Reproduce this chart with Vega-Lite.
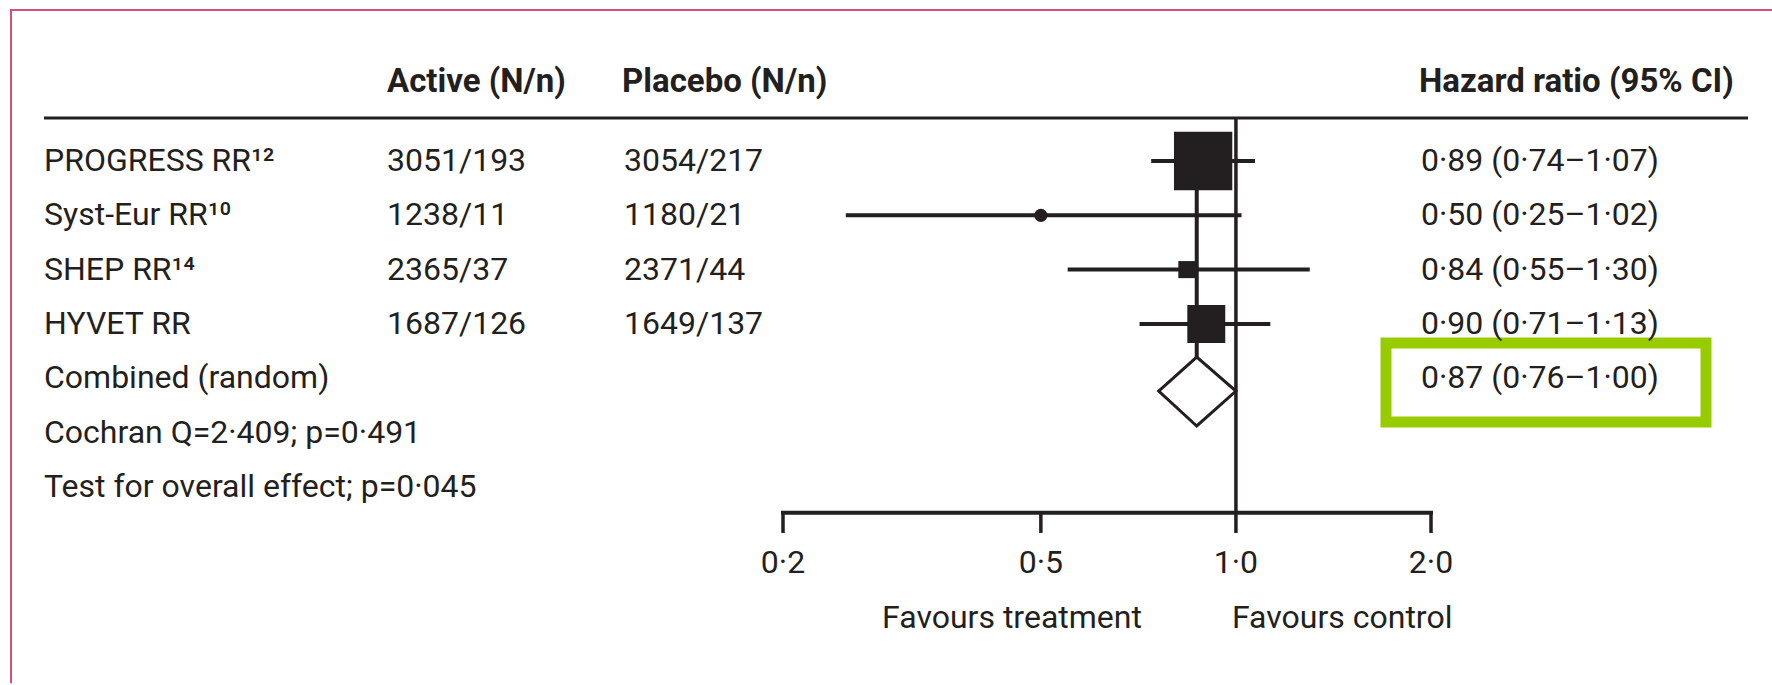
{
  "$schema": "https://vega.github.io/schema/vega-lite/v6.json",
  "background": "white",
  "padding": {"left": 9, "top": 0, "right": 0, "bottom": 0},
  "bounds": "flush",
  "spacing": 0,
  "config": {
    "view": {"stroke": null},
    "text": {"font": "Roboto", "fontSize": 32, "baseline": "middle", "color": "#231f20"},
    "rule": {"color": "#231f20", "strokeWidth": 3.5}
  },
  "datasets": {
    "studies": [
      {"row": 1, "label": "PROGRESS RR¹²", "active": "3051/193", "placebo": "3054/217", "hr": 0.89, "lo": 0.74, "hi": 1.07, "hrText": "0·89 (0·74–1·07)", "weight": 53},
      {"row": 2, "label": "Syst-Eur RR¹⁰", "active": "1238/11", "placebo": "1180/21", "hr": 0.50, "lo": 0.25, "hi": 1.02, "hrText": "0·50 (0·25–1·02)", "weight": 12},
      {"row": 3, "label": "SHEP RR¹⁴", "active": "2365/37", "placebo": "2371/44", "hr": 0.84, "lo": 0.55, "hi": 1.30, "hrText": "0·84 (0·55–1·30)", "weight": 15.5},
      {"row": 4, "label": "HYVET RR", "active": "1687/126", "placebo": "1649/137", "hr": 0.90, "lo": 0.71, "hi": 1.13, "hrText": "0·90 (0·71–1·13)", "weight": 34.5},
      {"row": 5, "label": "Combined (random)", "hr": 0.87, "lo": 0.76, "hi": 1.00, "hrText": "0·87 (0·76–1·00)"},
      {"row": 6, "label": "Cochran Q=2·409; p=0·491"},
      {"row": 7, "label": "Test for overall effect; p=0·045"}
    ],
    "diamond": [
      {"hr": 0.76, "top": 5.236, "bottom": 5.236},
      {"hr": 0.87, "top": 4.61, "bottom": 5.88},
      {"hr": 1.00, "top": 5.236, "bottom": 5.236}
    ],
    "ticks": [
      {"v": 0.2, "label": "0·2"},
      {"v": 0.5, "label": "0·5"},
      {"v": 1.0, "label": "1·0"},
      {"v": 2.0, "label": "2·0"}
    ],
    "favours": [
      {"side": "treatment", "label": "Favours treatment"},
      {"side": "control", "label": "Favours control"}
    ],
    "one": [{"k": 1}]
  },
  "hconcat": [
    {
      "width": 34, "height": 685,
      "data": {"name": "one"},
      "layer": [
        {"mark": {"type": "rule", "color": "#d4507a", "strokeWidth": 2},
         "encoding": {"y": {"datum": -1.781, "type": "quantitative", "scale": {"domain": [-1.965, 10.65], "reverse": true, "nice": false, "zero": false}, "axis": null}}},
        {"mark": {"type": "rule", "color": "#d4507a", "strokeWidth": 2},
         "encoding": {
           "x": {"datum": 0.03, "type": "quantitative", "scale": {"domain": [0, 1]}, "axis": null},
           "y": {"datum": -1.781, "type": "quantitative", "scale": {"domain": [-1.965, 10.65], "reverse": true, "nice": false, "zero": false}, "axis": null},
           "y2": {"datum": 10.62}}}
      ]
    },
    {
      "width": 343, "height": 685,
      "layer": [
        {"data": {"name": "one"}, "mark": {"type": "rule", "color": "#d4507a", "strokeWidth": 2},
         "encoding": {"y": {"datum": -1.781, "type": "quantitative", "scale": {"domain": [-1.965, 10.65], "reverse": true, "nice": false, "zero": false}, "axis": null}}},
        {"data": {"name": "one"}, "mark": {"type": "rule", "strokeWidth": 3},
         "encoding": {"y": {"datum": 0.208, "type": "quantitative", "scale": {"domain": [-1.965, 10.65], "reverse": true, "nice": false, "zero": false}, "axis": null}}},
        {"data": {"name": "studies"}, "mark": {"type": "text", "align": "left"},
         "encoding": {
           "x": {"datum": 0, "type": "quantitative", "scale": {"domain": [0, 1]}, "axis": null},
           "y": {"field": "row", "type": "quantitative", "scale": {"domain": [-1.965, 10.65], "reverse": true, "nice": false, "zero": false}, "axis": null},
           "text": {"field": "label", "type": "nominal"}}}
      ]
    },
    {
      "width": 235, "height": 685,
      "layer": [
        {"data": {"name": "one"}, "mark": {"type": "rule", "color": "#d4507a", "strokeWidth": 2},
         "encoding": {"y": {"datum": -1.781, "type": "quantitative", "scale": {"domain": [-1.965, 10.65], "reverse": true, "nice": false, "zero": false}, "axis": null}}},
        {"data": {"name": "one"}, "mark": {"type": "rule", "strokeWidth": 3},
         "encoding": {"y": {"datum": 0.208, "type": "quantitative", "scale": {"domain": [-1.965, 10.65], "reverse": true, "nice": false, "zero": false}, "axis": null}}},
        {"data": {"name": "one"}, "mark": {"type": "text", "align": "left", "fontWeight": "bold", "fontSize": 33},
         "encoding": {
           "x": {"datum": 0, "type": "quantitative", "scale": {"domain": [0, 1]}, "axis": null},
           "y": {"datum": -0.455, "type": "quantitative", "scale": {"domain": [-1.965, 10.65], "reverse": true, "nice": false, "zero": false}, "axis": null},
           "text": {"value": "Active (N/n)"}}},
        {"data": {"name": "studies"}, "transform": [{"filter": "isValid(datum.active)"}],
         "mark": {"type": "text", "align": "left"},
         "encoding": {
           "x": {"datum": 0, "type": "quantitative", "scale": {"domain": [0, 1]}, "axis": null},
           "y": {"field": "row", "type": "quantitative", "scale": {"domain": [-1.965, 10.65], "reverse": true, "nice": false, "zero": false}, "axis": null},
           "text": {"field": "active", "type": "nominal"}}}
      ]
    },
    {
      "width": 161, "height": 685,
      "layer": [
        {"data": {"name": "one"}, "mark": {"type": "rule", "color": "#d4507a", "strokeWidth": 2},
         "encoding": {"y": {"datum": -1.781, "type": "quantitative", "scale": {"domain": [-1.965, 10.65], "reverse": true, "nice": false, "zero": false}, "axis": null}}},
        {"data": {"name": "one"}, "mark": {"type": "rule", "strokeWidth": 3},
         "encoding": {"y": {"datum": 0.208, "type": "quantitative", "scale": {"domain": [-1.965, 10.65], "reverse": true, "nice": false, "zero": false}, "axis": null}}},
        {"data": {"name": "one"}, "mark": {"type": "text", "align": "left", "fontWeight": "bold", "fontSize": 33},
         "encoding": {
           "x": {"datum": 0, "type": "quantitative", "scale": {"domain": [0, 1]}, "axis": null},
           "y": {"datum": -0.455, "type": "quantitative", "scale": {"domain": [-1.965, 10.65], "reverse": true, "nice": false, "zero": false}, "axis": null},
           "text": {"value": "Placebo (N/n)"}}},
        {"data": {"name": "studies"}, "transform": [{"filter": "isValid(datum.placebo)"}],
         "mark": {"type": "text", "align": "left", "dx": 2},
         "encoding": {
           "x": {"datum": 0, "type": "quantitative", "scale": {"domain": [0, 1]}, "axis": null},
           "y": {"field": "row", "type": "quantitative", "scale": {"domain": [-1.965, 10.65], "reverse": true, "nice": false, "zero": false}, "axis": null},
           "text": {"field": "placebo", "type": "nominal"}}}
      ]
    },
    {
      "width": 603, "height": 685,
      "layer": [
        {"data": {"name": "one"}, "mark": {"type": "rule", "color": "#d4507a", "strokeWidth": 2},
         "encoding": {"y": {"datum": -1.781, "type": "quantitative", "scale": {"domain": [-1.965, 10.65], "reverse": true, "nice": false, "zero": false}, "axis": null}}},
        {"data": {"name": "one"}, "mark": {"type": "rule", "strokeWidth": 3},
         "encoding": {"y": {"datum": 0.208, "type": "quantitative", "scale": {"domain": [-1.965, 10.65], "reverse": true, "nice": false, "zero": false}, "axis": null}}},
        {"data": {"name": "one"}, "mark": {"type": "rule", "strokeWidth": 3.5},
         "encoding": {
           "x": {"datum": 1, "type": "quantitative", "scale": {"type": "log", "domain": [0.2, 2], "range": [0, 648], "nice": false}, "axis": null},
           "y": {"datum": 0.208, "type": "quantitative", "scale": {"domain": [-1.965, 10.65], "reverse": true, "nice": false, "zero": false}, "axis": null},
           "y2": {"datum": 7.48}}},
        {"data": {"name": "studies"}, "transform": [{"filter": "datum.row == 5"}],
         "mark": {"type": "rule", "strokeWidth": 4},
         "encoding": {
           "x": {"field": "hr", "type": "quantitative", "scale": {"type": "log", "domain": [0.2, 2], "range": [0, 648], "nice": false}, "axis": null},
           "y": {"datum": 1, "type": "quantitative", "scale": {"domain": [-1.965, 10.65], "reverse": true, "nice": false, "zero": false}, "axis": null},
           "y2": {"datum": 4.61}}},
        {"data": {"name": "studies"}, "transform": [{"filter": "isValid(datum.weight)"}],
         "mark": {"type": "rule", "strokeWidth": 4},
         "encoding": {
           "x": {"field": "lo", "type": "quantitative", "scale": {"type": "log", "domain": [0.2, 2], "range": [0, 648], "nice": false}, "axis": null},
           "x2": {"field": "hi"},
           "y": {"field": "row", "type": "quantitative", "scale": {"domain": [-1.965, 10.65], "reverse": true, "nice": false, "zero": false}, "axis": null}}},
        {"data": {"name": "studies"}, "transform": [{"filter": "isValid(datum.weight) && datum.weight >= 14"}],
         "mark": {"type": "square", "filled": true, "opacity": 1, "color": "#231f20", "strokeWidth": 0},
         "encoding": {
           "x": {"field": "hr", "type": "quantitative", "scale": {"type": "log", "domain": [0.2, 2], "range": [0, 648], "nice": false}, "axis": null},
           "y": {"field": "row", "type": "quantitative", "scale": {"domain": [-1.965, 10.65], "reverse": true, "nice": false, "zero": false}, "axis": null},
           "size": {"field": "weight", "type": "quantitative", "scale": {"type": "pow", "exponent": 2, "domain": [0, 100], "range": [0, 12100]}, "legend": null}}},
        {"data": {"name": "studies"}, "transform": [{"filter": "isValid(datum.weight) && datum.weight < 14"}],
         "mark": {"type": "circle", "filled": true, "opacity": 1, "color": "#231f20", "strokeWidth": 0},
         "encoding": {
           "x": {"field": "hr", "type": "quantitative", "scale": {"type": "log", "domain": [0.2, 2], "range": [0, 648], "nice": false}, "axis": null},
           "y": {"field": "row", "type": "quantitative", "scale": {"domain": [-1.965, 10.65], "reverse": true, "nice": false, "zero": false}, "axis": null},
           "size": {"field": "weight", "type": "quantitative", "scale": {"type": "pow", "exponent": 2, "domain": [0, 100], "range": [0, 12100]}, "legend": null}}},
        {"data": {"name": "diamond"},
         "mark": {"type": "area", "fill": "white", "fillOpacity": 1, "stroke": "#231f20", "strokeWidth": 3, "orient": "vertical", "strokeJoin": "miter"},
         "encoding": {
           "x": {"field": "hr", "type": "quantitative", "scale": {"type": "log", "domain": [0.2, 2], "range": [0, 648], "nice": false}, "axis": null},
           "y": {"field": "top", "type": "quantitative", "scale": {"domain": [-1.965, 10.65], "reverse": true, "nice": false, "zero": false}, "axis": null},
           "y2": {"field": "bottom"}}},
        {"data": {"name": "one"}, "mark": {"type": "rule", "strokeWidth": 4, "strokeCap": "square"},
         "encoding": {
           "x": {"datum": 0.2, "type": "quantitative", "scale": {"type": "log", "domain": [0.2, 2], "range": [0, 648], "nice": false}, "axis": null},
           "x2": {"datum": 2},
           "y": {"datum": 7.48, "type": "quantitative", "scale": {"domain": [-1.965, 10.65], "reverse": true, "nice": false, "zero": false}, "axis": null}}},
        {"data": {"name": "ticks"}, "mark": {"type": "rule", "strokeWidth": 3.5},
         "encoding": {
           "x": {"field": "v", "type": "quantitative", "scale": {"type": "log", "domain": [0.2, 2], "range": [0, 648], "nice": false}, "axis": null},
           "y": {"datum": 7.48, "type": "quantitative", "scale": {"domain": [-1.965, 10.65], "reverse": true, "nice": false, "zero": false}, "axis": null},
           "y2": {"datum": 7.85}}},
        {"data": {"name": "ticks"}, "mark": {"type": "text", "align": "center"},
         "encoding": {
           "x": {"field": "v", "type": "quantitative", "scale": {"type": "log", "domain": [0.2, 2], "range": [0, 648], "nice": false}, "axis": null},
           "y": {"datum": 8.40, "type": "quantitative", "scale": {"domain": [-1.965, 10.65], "reverse": true, "nice": false, "zero": false}, "axis": null},
           "text": {"field": "label", "type": "nominal"}}},
        {"data": {"name": "favours"}, "transform": [{"filter": "datum.side == 'treatment'"}],
         "mark": {"type": "text", "align": "right", "dx": -94},
         "encoding": {
           "x": {"datum": 1, "type": "quantitative", "scale": {"type": "log", "domain": [0.2, 2], "range": [0, 648], "nice": false}, "axis": null},
           "y": {"datum": 9.42, "type": "quantitative", "scale": {"domain": [-1.965, 10.65], "reverse": true, "nice": false, "zero": false}, "axis": null},
           "text": {"field": "label", "type": "nominal"}}},
        {"data": {"name": "favours"}, "transform": [{"filter": "datum.side == 'control'"}],
         "mark": {"type": "text", "align": "left", "dx": -4},
         "encoding": {
           "x": {"datum": 1, "type": "quantitative", "scale": {"type": "log", "domain": [0.2, 2], "range": [0, 648], "nice": false}, "axis": null},
           "y": {"datum": 9.42, "type": "quantitative", "scale": {"domain": [-1.965, 10.65], "reverse": true, "nice": false, "zero": false}, "axis": null},
           "text": {"field": "label", "type": "nominal"}}}
      ]
    },
    {
      "width": 320, "height": 685,
      "layer": [
        {"data": {"name": "one"}, "mark": {"type": "rule", "color": "#d4507a", "strokeWidth": 2},
         "encoding": {"y": {"datum": -1.781, "type": "quantitative", "scale": {"domain": [-1.965, 10.65], "reverse": true, "nice": false, "zero": false}, "axis": null}}},
        {"data": {"name": "one"}, "mark": {"type": "rule", "strokeWidth": 3},
         "encoding": {"y": {"datum": 0.208, "type": "quantitative", "scale": {"domain": [-1.965, 10.65], "reverse": true, "nice": false, "zero": false}, "axis": null}}},
        {"data": {"name": "one"}, "mark": {"type": "rect", "filled": false, "fill": "transparent", "stroke": "#99cc00", "strokeWidth": 11, "strokeJoin": "miter"},
         "encoding": {
           "y": {"datum": 4.352, "type": "quantitative", "scale": {"domain": [-1.965, 10.65], "reverse": true, "nice": false, "zero": false}, "axis": null},
           "y2": {"datum": 5.807}}},
        {"data": {"name": "one"}, "mark": {"type": "text", "align": "left", "fontWeight": "bold", "fontSize": 33, "dx": 33},
         "encoding": {
           "x": {"datum": 0, "type": "quantitative", "scale": {"domain": [0, 1]}, "axis": null},
           "y": {"datum": -0.455, "type": "quantitative", "scale": {"domain": [-1.965, 10.65], "reverse": true, "nice": false, "zero": false}, "axis": null},
           "text": {"value": "Hazard ratio (95% CI)"}}},
        {"data": {"name": "studies"}, "transform": [{"filter": "isValid(datum.hrText)"}],
         "mark": {"type": "text", "align": "left", "dx": 35},
         "encoding": {
           "x": {"datum": 0, "type": "quantitative", "scale": {"domain": [0, 1]}, "axis": null},
           "y": {"field": "row", "type": "quantitative", "scale": {"domain": [-1.965, 10.65], "reverse": true, "nice": false, "zero": false}, "axis": null},
           "text": {"field": "hrText", "type": "nominal"}}}
      ]
    },
    {
      "width": 42, "height": 685,
      "data": {"name": "one"},
      "layer": [
        {"mark": {"type": "rule", "color": "#d4507a", "strokeWidth": 2},
         "encoding": {"y": {"datum": -1.781, "type": "quantitative", "scale": {"domain": [-1.965, 10.65], "reverse": true, "nice": false, "zero": false}, "axis": null}}},
        {"mark": {"type": "rule", "strokeWidth": 3},
         "encoding": {"y": {"datum": 0.208, "type": "quantitative", "scale": {"domain": [-1.965, 10.65], "reverse": true, "nice": false, "zero": false}, "axis": null}}}
      ]
    },
    {
      "width": 25, "height": 685,
      "data": {"name": "one"},
      "mark": {"type": "rule", "color": "#d4507a", "strokeWidth": 2},
      "encoding": {"y": {"datum": -1.781, "type": "quantitative", "scale": {"domain": [-1.965, 10.65], "reverse": true, "nice": false, "zero": false}, "axis": null}}
    }
  ]
}
